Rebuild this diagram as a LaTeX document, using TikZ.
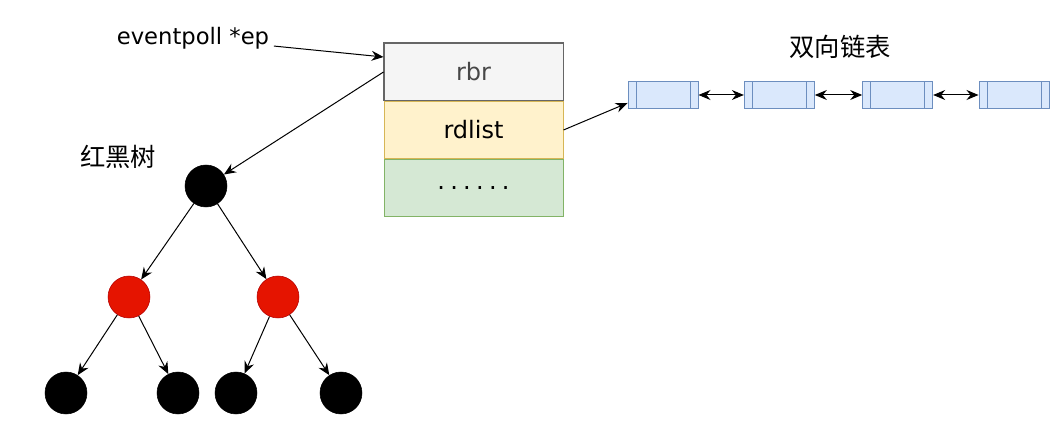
\documentclass[tikz,border=0pt]{standalone}
\usepackage{fontspec}
\setmainfont{DejaVu Sans}
\newfontfamily\cjk{Noto Sans CJK SC}
\usepackage{tikz}
\usetikzlibrary{shapes.geometric, arrows.meta, positioning}
\definecolor{rbrfill}{HTML}{F5F5F5}
\definecolor{rbrline}{HTML}{666666}
\definecolor{rdfill}{HTML}{FFF2CC}
\definecolor{rdline}{HTML}{D6B656}
\definecolor{etcfill}{HTML}{D5E8D4}
\definecolor{etcline}{HTML}{82B366}
\definecolor{lstfill}{HTML}{DAE8FC}
\definecolor{lstline}{HTML}{6C8EBF}
\definecolor{redfill}{HTML}{E51400}
\definecolor{redline}{HTML}{B20000}
\newcommand{\fielddots}{.\kern.22em.\kern.22em.\kern.22em.\kern.22em.\kern.22em.}
\tikzstyle{field} = [rectangle, minimum width=134.25pt, minimum height=42.75pt, inner sep=0pt, text centered, font=\fontsize{18}{20}\selectfont, line width=0.75pt]
\tikzstyle{lnode} = [rectangle, minimum width=52.5pt, minimum height=20.25pt, inner sep=0pt, draw=lstline, fill=lstfill, line width=0.75pt,
  path picture={\draw[lstline, line width=0.75pt] ([xshift=6pt]path picture bounding box.north west) -- ([xshift=6pt]path picture bounding box.south west);
    \draw[lstline, line width=0.75pt] ([xshift=-6pt]path picture bounding box.north east) -- ([xshift=-6pt]path picture bounding box.south east);}]
\tikzstyle{blk} = [circle, minimum size=31.5pt, inner sep=0pt, draw=black, fill=black]
\tikzstyle{red} = [circle, minimum size=31.5pt, inner sep=0pt, draw=redline, fill=redfill]
\tikzstyle{lbl} = [font=\fontsize{17}{19}\selectfont]
\tikzstyle{cnlbl} = [font=\cjk\fontsize{19}{21}\selectfont]
\tikzstyle{arrow} = [-{Stealth[length=9pt, width=7.5pt, inset=3pt]}, line width=0.75pt]
\tikzstyle{darrow} = [{Stealth[length=9pt, width=7.5pt, inset=3pt]}-{Stealth[length=9pt, width=7.5pt, inset=3pt]}, line width=0.75pt]

\begin{document}
\begin{tikzpicture}[x=0.75pt, y=-0.75pt]
\useasboundingbox (0,0) rectangle (1059,427);
% struct eventpoll
\node (rbr) [field, draw=rbrline, fill=rbrfill, text=rbrline!70!black] at (473.5,72) {rbr};
\node (rdlist) [field, draw=rdline, fill=rdfill, below=0pt of rbr] {rdlist};
\node (etc) [field, draw=etcline, fill=etcfill, below=0pt of rdlist] {\fielddots};
\draw [rbrline, line width=0.75pt] (rbr.north west) rectangle (rbr.south east);
\node (ep) [lbl] at (193,38) {eventpoll *ep};
% ready list
\node (tlist) [cnlbl] at (840,47) {双向链表};
\node (l1) [lnode] at (663,95) {};
\node (l2) [lnode, right=34pt of l1] {};
\node (l3) [lnode, right=35.5pt of l2] {};
\node (l4) [lnode, right=34pt of l3] {};
% red-black tree
\node (ttree) [cnlbl] at (118,157) {红黑树};
\node (root) [blk] at (206,186) {};
\node (r1) [red] at (129,297) {};
\node (r2) [red] at (278,297) {};
\node (b1) [blk] at (66,393) {};
\node (b2) [blk] at (178,393) {};
\node (b3) [blk] at (236,393) {};
\node (b4) [blk] at (341,393) {};
\draw [arrow] (ep) -- ([yshift=-10.5pt]rbr.north west);
\draw [arrow] (rbr.west) -- (root);
\draw [arrow] (rdlist.east) -- ([yshift=-6pt]l1.west);
\draw [darrow] (l1) -- (l2);
\draw [darrow] (l2) -- (l3);
\draw [darrow] (l3) -- (l4);
\draw [arrow] (root) -- (r1);
\draw [arrow] (root) -- (r2);
\draw [arrow] (r1) -- (b1);
\draw [arrow] (r1) -- (b2);
\draw [arrow] (r2) -- (b3);
\draw [arrow] (r2) -- (b4);
\end{tikzpicture}
\end{document}
